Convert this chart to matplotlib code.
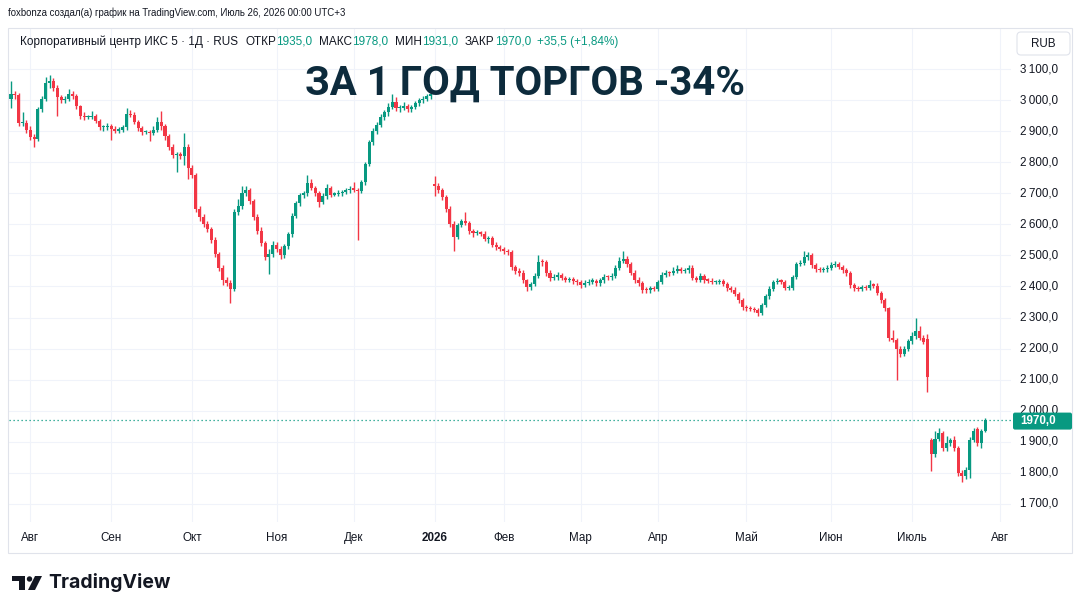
import numpy as np
import matplotlib
matplotlib.use('Agg')
import matplotlib.pyplot as plt
from matplotlib import font_manager
from matplotlib.patches import Polygon, Circle, FancyBboxPatch, Rectangle

W, H = 1079, 613
UP = '#089981'
DOWN = '#F23645'
TEXT = '#131722'
GRID = '#f0f3fa'
TITLE_COLOR = '#0d2b3c'

# ---------------- data (daily OHLC) ----------------
opens = [3005, 3020, 3015, 2925, 2925, 2905, 2880, 2875, 2970, 3005,
         3055, 3060, 3040, 3010, 3000, 3005, 3020, 3012, 2980, 2950,
         2945, 2945, 2948, 2932, 2912, 2912, 2915, 2908, 2902, 2905,
         2912, 2955, 2953, 2930, 2910, 2898, 2898, 2895, 2905, 2928,
         2915, 2885, 2850, 2822, 2825, 2820, 2850, 2780, 2760, 2650,
         2625, 2600, 2585, 2550, 2505, 2460, 2420, 2412, 2392, 2640,
         2660, 2700, 2712, 2675, 2625, 2580, 2540, 2495, 2505, 2535,
         2522, 2500, 2530, 2568, 2628, 2668, 2693, 2700, 2732, 2718,
         2700, 2672, 2690, 2718, 2696, 2698, 2700, 2705, 2710, 2714,
         2712, 2708, 2735, 2795, 2865, 2900, 2920, 2945, 2960, 2978,
         2995, 2975, 2975, 2980, 2970, 2978, 2990, 3000, 3005, 3012,
         2730, 2725, 2712, 2688, 2650, 2600, 2560, 2598, 2610, 2605,
         2578, 2572, 2575, 2570, 2552, 2555, 2535, 2527, 2522, 2514,
         2510, 2462, 2450, 2445, 2420, 2397, 2408, 2435, 2480, 2478,
         2445, 2427, 2430, 2438, 2428, 2421, 2424, 2417, 2413, 2406,
         2412, 2416, 2418, 2410, 2420, 2432, 2430, 2434, 2460, 2482,
         2490, 2472, 2445, 2422, 2412, 2390, 2388, 2395, 2393, 2415,
         2438, 2444, 2443, 2450, 2455, 2450, 2453, 2460, 2428, 2422,
         2434, 2420, 2419, 2415, 2415, 2417, 2408, 2395, 2390, 2376,
         2356, 2333, 2330, 2328, 2325, 2316, 2342, 2368, 2392, 2415,
         2418, 2416, 2396, 2396, 2430, 2472, 2476, 2494, 2502, 2468,
         2455, 2454, 2455, 2460, 2470, 2473, 2462, 2453, 2443, 2405,
         2395, 2393, 2398, 2396, 2406, 2403, 2380, 2355, 2330, 2235,
         2228, 2200, 2182, 2200, 2224, 2240, 2258, 2235, 2230, 1905,
         1860, 1910, 1928, 1880, 1895, 1905, 1880, 1800, 1790, 1810,
         1905, 1940, 1895, 1935]
highs = [3060, 3030, 3022, 2960, 2935, 2915, 2890, 2978, 3012, 3075,
         3082, 3070, 3048, 3015, 3012, 3035, 3028, 3018, 2985, 2960,
         2952, 2965, 2955, 2938, 2920, 2925, 2922, 2915, 2912, 2920,
         2975, 2968, 2960, 2935, 2918, 2905, 2905, 2915, 2945, 2965,
         2922, 2892, 2858, 2832, 2832, 2895, 2860, 2790, 2765, 2660,
         2632, 2610, 2592, 2558, 2512, 2470, 2430, 2420, 2650, 2680,
         2722, 2725, 2718, 2680, 2632, 2590, 2548, 2520, 2545, 2542,
         2530, 2538, 2575, 2635, 2675, 2700, 2708, 2760, 2745, 2725,
         2708, 2700, 2730, 2725, 2705, 2710, 2712, 2716, 2722, 2735,
         2718, 2742, 2802, 2872, 2910, 2928, 2955, 2968, 2990, 3020,
         3010, 2985, 2995, 2988, 2985, 2998, 3008, 3012, 3020, 3030,
         2755, 2732, 2718, 2695, 2658, 2610, 2605, 2618, 2640, 2612,
         2585, 2582, 2580, 2578, 2562, 2562, 2542, 2535, 2528, 2520,
         2516, 2470, 2458, 2452, 2425, 2415, 2442, 2500, 2490, 2485,
         2452, 2440, 2448, 2445, 2435, 2432, 2430, 2425, 2420, 2420,
         2424, 2426, 2425, 2428, 2440, 2438, 2442, 2470, 2495, 2515,
         2498, 2480, 2452, 2430, 2418, 2398, 2402, 2402, 2422, 2448,
         2452, 2450, 2462, 2468, 2462, 2460, 2468, 2470, 2435, 2442,
         2440, 2428, 2426, 2422, 2425, 2424, 2415, 2402, 2397, 2382,
         2362, 2340, 2336, 2334, 2332, 2348, 2375, 2400, 2422, 2426,
         2425, 2422, 2404, 2438, 2480, 2484, 2515, 2510, 2508, 2475,
         2462, 2462, 2468, 2478, 2482, 2480, 2470, 2460, 2450, 2412,
         2402, 2405, 2404, 2420, 2412, 2410, 2386, 2362, 2335, 2260,
         2235, 2210, 2208, 2232, 2255, 2300, 2272, 2245, 2248, 1912,
         1935, 1945, 1935, 1918, 1912, 1920, 1888, 1808, 1818, 1915,
         1945, 1948, 1940, 1978]
lows = [2975, 3005, 2915, 2915, 2895, 2870, 2850, 2868, 2962, 2998,
        3040, 3030, 2950, 2992, 2992, 2998, 3002, 2972, 2940, 2935,
        2938, 2938, 2925, 2905, 2900, 2905, 2870, 2893, 2895, 2898,
        2905, 2945, 2922, 2900, 2888, 2890, 2868, 2888, 2898, 2905,
        2870, 2840, 2812, 2770, 2810, 2790, 2745, 2750, 2640, 2612,
        2590, 2575, 2540, 2495, 2450, 2405, 2400, 2348, 2385, 2630,
        2650, 2692, 2665, 2615, 2570, 2530, 2485, 2440, 2495, 2512,
        2490, 2492, 2522, 2560, 2620, 2660, 2685, 2692, 2710, 2690,
        2655, 2665, 2682, 2688, 2690, 2690, 2692, 2698, 2702, 2704,
        2550, 2700, 2728, 2788, 2855, 2890, 2912, 2935, 2950, 2970,
        2965, 2962, 2968, 2962, 2962, 2970, 2982, 2992, 2998, 3005,
        2690, 2700, 2678, 2640, 2590, 2515, 2552, 2590, 2598, 2568,
        2560, 2565, 2562, 2545, 2540, 2526, 2518, 2514, 2505, 2500,
        2452, 2440, 2435, 2410, 2385, 2388, 2400, 2428, 2465, 2435,
        2418, 2420, 2422, 2420, 2413, 2414, 2408, 2405, 2396, 2398,
        2404, 2408, 2402, 2402, 2412, 2422, 2422, 2426, 2452, 2474,
        2464, 2436, 2412, 2403, 2380, 2378, 2380, 2385, 2386, 2407,
        2430, 2435, 2436, 2442, 2442, 2444, 2445, 2420, 2413, 2415,
        2412, 2410, 2407, 2408, 2408, 2400, 2386, 2382, 2368, 2348,
        2325, 2322, 2320, 2317, 2305, 2308, 2335, 2360, 2385, 2408,
        2408, 2388, 2388, 2390, 2423, 2465, 2468, 2486, 2460, 2446,
        2446, 2447, 2448, 2453, 2462, 2455, 2445, 2435, 2396, 2386,
        2385, 2386, 2388, 2388, 2395, 2372, 2346, 2322, 2225, 2220,
        2100, 2172, 2175, 2192, 2215, 2232, 2227, 2214, 2060, 1805,
        1852, 1902, 1872, 1872, 1887, 1872, 1790, 1770, 1782, 1785,
        1898, 1888, 1880, 1931]
closes = [3020, 3015, 2925, 2925, 2905, 2880, 2875, 2970, 3005, 3055,
          3060, 3040, 3010, 3000, 3005, 3020, 3012, 2980, 2950, 2945,
          2945, 2948, 2932, 2912, 2912, 2915, 2908, 2902, 2905, 2912,
          2955, 2953, 2930, 2910, 2898, 2898, 2895, 2905, 2928, 2915,
          2885, 2850, 2822, 2825, 2820, 2850, 2780, 2760, 2650, 2625,
          2600, 2585, 2550, 2505, 2460, 2420, 2412, 2392, 2640, 2660,
          2700, 2712, 2675, 2625, 2580, 2540, 2495, 2505, 2535, 2522,
          2500, 2530, 2568, 2628, 2668, 2693, 2700, 2732, 2718, 2700,
          2672, 2690, 2718, 2696, 2698, 2700, 2705, 2710, 2714, 2712,
          2708, 2735, 2795, 2865, 2900, 2920, 2945, 2960, 2978, 2995,
          2975, 2975, 2980, 2970, 2978, 2990, 3000, 3005, 3012, 3018,
          2725, 2712, 2688, 2650, 2600, 2560, 2598, 2610, 2605, 2578,
          2572, 2575, 2570, 2552, 2555, 2535, 2527, 2522, 2514, 2510,
          2462, 2450, 2445, 2420, 2397, 2408, 2435, 2480, 2478, 2445,
          2427, 2430, 2438, 2428, 2421, 2424, 2417, 2413, 2406, 2412,
          2416, 2418, 2410, 2420, 2432, 2430, 2434, 2460, 2482, 2490,
          2472, 2445, 2422, 2412, 2390, 2388, 2395, 2393, 2415, 2438,
          2444, 2443, 2450, 2455, 2450, 2453, 2460, 2428, 2422, 2434,
          2420, 2419, 2415, 2415, 2417, 2408, 2395, 2390, 2376, 2356,
          2333, 2330, 2328, 2325, 2316, 2342, 2368, 2392, 2415, 2418,
          2416, 2396, 2396, 2430, 2472, 2476, 2494, 2502, 2468, 2455,
          2454, 2455, 2460, 2470, 2473, 2462, 2453, 2443, 2405, 2395,
          2393, 2398, 2396, 2406, 2403, 2380, 2355, 2330, 2235, 2228,
          2200, 2182, 2200, 2224, 2240, 2258, 2235, 2222, 2108, 1860,
          1910, 1928, 1880, 1895, 1905, 1880, 1800, 1790, 1810, 1905,
          1935, 1895, 1934.5, 1970]

month_labels = ['Авг', 'Сен', 'Окт', 'Ноя', 'Дек', '2026', 'Фев', 'Мар',
                'Апр', 'Май', 'Июн', 'Июль', 'Авг']
month_bars = [5, 26, 47, 69, 89, 110, 128, 148, 168, 191, 213, 234, 257]
price_ticks = [1700, 1800, 1900, 2000, 2100, 2200, 2300, 2400, 2500,
               2600, 2700, 2800, 2900, 3000, 3100]
last_price = 1970.0

header = 'foxbonza создал(а) график на TradingView.com, Июль 26, 2026 00:00 UTC+3'
legend_parts = [('Корпоративный центр ИКС 5 · 1Д · RUS', TEXT, 7),
                ('ОТКР', TEXT, 0), ('1935,0', UP, 7),
                ('МАКС', TEXT, 0), ('1978,0', UP, 7),
                ('МИН', TEXT, 0), ('1931,0', UP, 7),
                ('ЗАКР', TEXT, 0), ('1970,0', UP, 6),
                ('+35,5 (+1,84%)', UP, 0)]
title = 'ЗА 1 ГОД ТОРГОВ -34%'

# ---------------- layout (pixels) ----------------
installed = {f.name for f in font_manager.fontManager.ttflist}
UI_FONT = ['Liberation Sans', 'DejaVu Sans']
if 'Liberation Sans Narrow' in installed:
    TITLE_FONT = ['Liberation Sans Narrow', 'DejaVu Sans']
else:
    TITLE_FONT = ['Roboto', 'DejaVu Sans']

L, R, T, B = 9, 1011, 28, 522          # chart pane
FIRST_X, BAR_PX = 11.0, 3.85           # first candle x, px per bar
Y_3100, PX_PER_100 = 69.0, 31.07


def py(p):
    return Y_3100 + (3100 - p) * PX_PER_100 / 100.0


def px(i):
    return FIRST_X + BAR_PX * i


def price_at(y):
    return 3100 - (y - Y_3100) * 100.0 / PX_PER_100


fig = plt.figure(figsize=(W / 100, H / 100), dpi=100)
fig.patch.set_facecolor('white')

ax = fig.add_axes([L / W, 1 - B / H, (R - L) / W, (B - T) / H])
xmin = -(FIRST_X - L) / BAR_PX
ax.set_xlim(xmin, xmin + (R - L) / BAR_PX)
ax.set_ylim(price_at(B), price_at(T))
ax.axis('off')

for p in price_ticks:
    ax.axhline(p, color=GRID, lw=0.8, zorder=0)
for m in month_bars:
    ax.axvline(m, color=GRID, lw=0.8, zorder=0)

o = np.array(opens, float)
h = np.array(highs, float)
l = np.array(lows, float)
c = np.array(closes, float)
idx = np.arange(len(c))
cols = np.where(c >= o, UP, DOWN)
ax.vlines(idx, l, h, colors=cols, linewidth=1.0, zorder=2)
ax.bar(idx, np.maximum(np.abs(c - o), 3.5), bottom=np.minimum(o, c),
       width=0.8, color=cols, linewidth=0, zorder=3)

# overlay in pixel coordinates for texts and decorations
ov = fig.add_axes([0, 0, 1, 1])
ov.set_xlim(0, W)
ov.set_ylim(H, 0)
ov.axis('off')
ov.patch.set_alpha(0)
renderer = fig.canvas.get_renderer()


def fit_text(x, y, s, width, size=10, **kw):
    t = ov.text(x, y, s, fontsize=size, **kw)
    w = t.get_window_extent(renderer).width
    t.set_fontsize(size * width / w)
    return t


ov.add_patch(Rectangle((8, 28), 1064, 525, fill=False, ec='#e0e3eb', lw=0.8))

fit_text(8, 13, header, 339, color=TEXT, va='center', ha='left', family=UI_FONT)

first = fit_text(20, 42, legend_parts[0][0], 217, color=TEXT, va='center',
                 ha='left', family=UI_FONT)
lsize = first.get_fontsize()
x = 20 + first.get_window_extent(renderer).width + legend_parts[0][2]
for s, col, gap in legend_parts[1:]:
    t = ov.text(x, 42, s, color=col, fontsize=lsize, va='center', ha='left',
                family=UI_FONT)
    x += t.get_window_extent(renderer).width + gap

fit_text(525, 84, title, 440, color=TITLE_COLOR, va='center', ha='center',
         family=TITLE_FONT, fontweight='bold')

# price scale
for p in price_ticks:
    s = '{:,.1f}'.format(p).replace(',', '\u2009').replace('.', ',')
    ov.text(1020, py(p), s, fontsize=8.4, color=TEXT, va='center', ha='left',
            family=UI_FONT)

ov.add_patch(FancyBboxPatch((1017, 32), 53, 23,
                            boxstyle='round,pad=0,rounding_size=4',
                            fc='white', ec='#e0e3eb', lw=0.8))
ov.text(1043.5, 44, 'RUB', fontsize=8.4, color=TEXT, va='center', ha='center',
        family=UI_FONT)

ylast = py(last_price)
ov.plot([L, 1013], [ylast, ylast], color=UP, lw=0.9, ls=(0, (1, 2.2)))
ov.add_patch(FancyBboxPatch((1013, ylast - 7.5), 59, 17,
                            boxstyle='round,pad=0,rounding_size=2',
                            fc=UP, ec='none', zorder=5))
ov.text(1020, ylast + 1, '{:.1f}'.format(last_price).replace('.', ','),
        fontsize=8.4, color='white', fontweight='bold', va='center',
        ha='left', family=UI_FONT, zorder=6)

# time scale
for m, s in zip(month_bars, month_labels):
    ov.text(px(m), 538, s, fontsize=8.4, color=TEXT, va='center', ha='center',
            family=UI_FONT, fontweight='bold' if s.isdigit() else 'normal')

# TradingView logo
ov.add_patch(Polygon([(12, 576), (25, 576), (25, 590), (19, 590), (19, 581),
                      (12, 581)], closed=True, fc='#131722', ec='none'))
ov.add_patch(Circle((29.5, 579), 2.7, fc='#131722', ec='none'))
ov.add_patch(Polygon([(35, 576), (42, 576), (35, 590), (28, 590)],
                     closed=True, fc='#131722', ec='none'))
fit_text(48, 583, 'TradingView', 122, color='#131722', va='center',
         ha='left', family=['Inter', 'Roboto', 'DejaVu Sans'],
         fontweight='bold')

fig.savefig('out.png', dpi=100, facecolor='white')
